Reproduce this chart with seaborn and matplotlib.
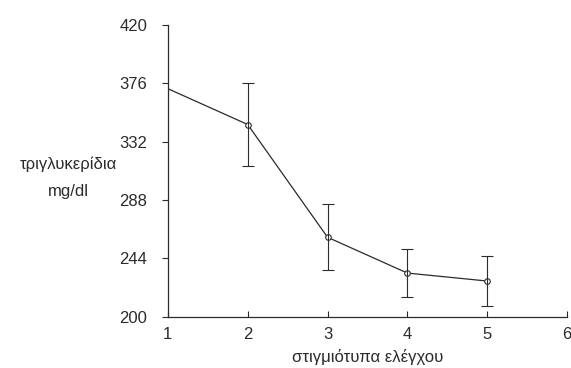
import matplotlib
matplotlib.use("Agg")
import matplotlib.pyplot as plt
import pandas as pd
import seaborn as sns

sns.set_theme(style="ticks")
plt.rcParams["font.family"] = ["Liberation Sans", "DejaVu Sans"]

# control time points and mean triglycerides (mg/dl) with error
timepoints = [1, 2, 3, 4, 5]
trig_mean = [372, 345, 260, 233, 227]
trig_err = [0, 31, 25, 18, 19]

y_ticks = [200, 244, 288, 332, 376, 420]
x_ticks = [1, 2, 3, 4, 5, 6]

df = pd.DataFrame({"t": timepoints, "mean": trig_mean, "err": trig_err})

ink = "#2b2b2b"

fig = plt.figure(figsize=(5.71, 3.68), dpi=100)
ax = fig.add_axes([0.294, 0.139, 0.699, 0.793])

sns.lineplot(data=df, x="t", y="mean", ax=ax, color=ink, linewidth=0.9,
             marker="o", markersize=4, markerfacecolor="white",
             markeredgecolor=ink, markeredgewidth=0.8,
             markevery=[1, 2, 3, 4])
eb = df[df["err"] > 0]
ax.errorbar(eb["t"], eb["mean"], yerr=eb["err"], fmt="none",
            ecolor=ink, elinewidth=0.8, capsize=4, capthick=0.8)

ax.set_xlim(1, 6)
ax.set_ylim(200, 420)
ax.set_xticks(x_ticks)
ax.set_yticks(y_ticks)
ax.tick_params(axis="both", colors=ink, labelsize=12, width=0.8)
ax.tick_params(axis="y", length=4, pad=11)
ax.tick_params(axis="x", direction="in", length=4, pad=7)
sns.despine(ax=ax)
for s in ["left", "bottom"]:
    ax.spines[s].set_color(ink)
    ax.spines[s].set_linewidth(0.9)

ax.set_xlabel("στιγμιότυπα ελέγχου", fontsize=12, color=ink, labelpad=5)
ax.set_ylabel("")
fig.text(68 / 571, 1 - 178 / 368, "τριγλυκερίδια\nmg/dl", ha="center",
         va="center", fontsize=12, color=ink, linespacing=2.0)

fig.savefig("out.png", dpi=100)
